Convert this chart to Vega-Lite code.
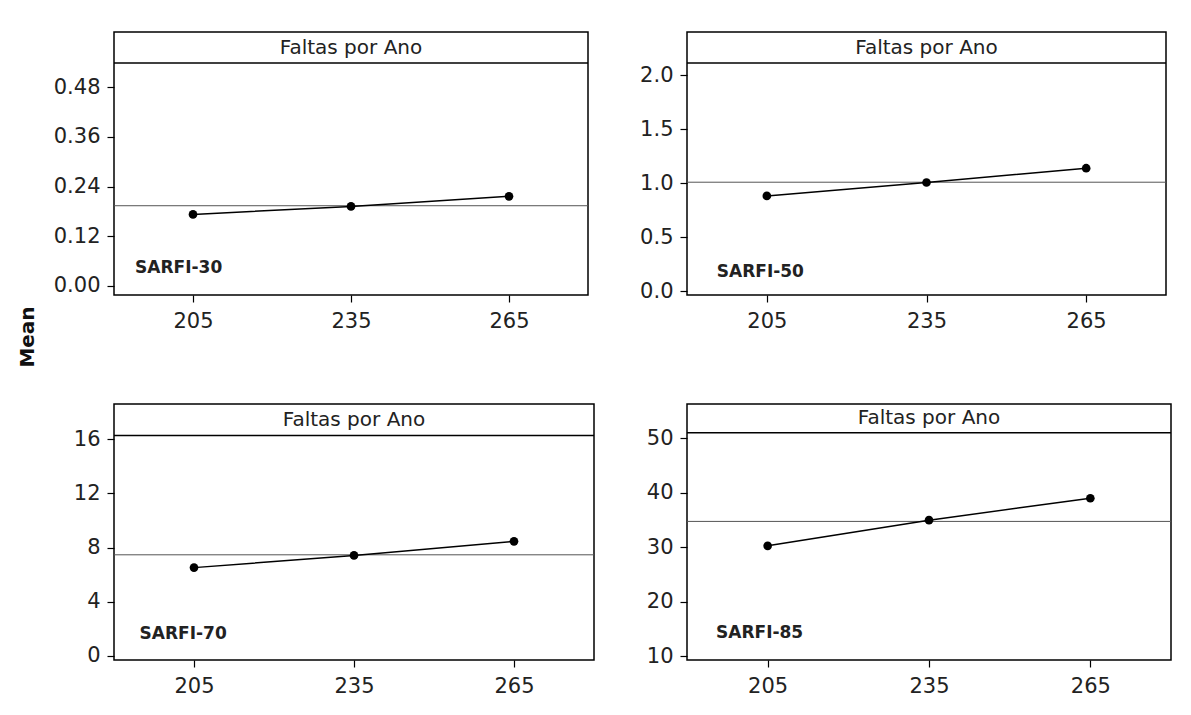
{
  "$schema": "https://vega.github.io/schema/vega-lite/v6.json",
  "background": "white",
  "padding": {"left": 18, "top": 31, "right": 5, "bottom": 5},
  "title": {"text": "Mean", "orient": "left", "anchor": "middle", "font": "DejaVu Sans", "fontSize": 20, "fontWeight": "bold", "color": "#111", "offset": 14, "dx": 27},
  "datasets": {
    "medias": [
      {"painel": "SARFI-30", "fator": "Faltas por Ano", "ano": 205, "media": 0.1727},
      {"painel": "SARFI-30", "fator": "Faltas por Ano", "ano": 235, "media": 0.192},
      {"painel": "SARFI-30", "fator": "Faltas por Ano", "ano": 265, "media": 0.2163},
      {"painel": "SARFI-50", "fator": "Faltas por Ano", "ano": 205, "media": 0.882},
      {"painel": "SARFI-50", "fator": "Faltas por Ano", "ano": 235, "media": 1.006},
      {"painel": "SARFI-50", "fator": "Faltas por Ano", "ano": 265, "media": 1.139},
      {"painel": "SARFI-70", "fator": "Faltas por Ano", "ano": 205, "media": 6.52},
      {"painel": "SARFI-70", "fator": "Faltas por Ano", "ano": 235, "media": 7.42},
      {"painel": "SARFI-70", "fator": "Faltas por Ano", "ano": 265, "media": 8.46},
      {"painel": "SARFI-85", "fator": "Faltas por Ano", "ano": 205, "media": 30.27},
      {"painel": "SARFI-85", "fator": "Faltas por Ano", "ano": 235, "media": 34.98},
      {"painel": "SARFI-85", "fator": "Faltas por Ano", "ano": 265, "media": 39.01}
    ]
  },
  "bounds": "flush",
  "align": "all",
  "columns": 2,
  "spacing": {"row": 109, "column": 89},
  "concat": [
    {
      "width": 474, "height": 263,
      "data": {"name": "medias"},
      "transform": [{"filter": "datum.painel == 'SARFI-30'"}],
      "layer": [
        {"transform": [{"filter": "datum.ano == 205"}], "mark": {"type": "rule", "color": "black", "strokeWidth": 1.5}, "encoding": {"y": {"datum": 0.538, "title": null}}},
        {"transform": [{"filter": "datum.ano == 205"}], "mark": {"type": "text", "font": "DejaVu Sans", "fontSize": 20, "color": "#222", "baseline": "middle"}, "encoding": {"x": {"datum": 235, "title": null}, "y": {"datum": 0.5755, "title": null}, "text": {"field": "fator"}}},
        {"transform": [{"filter": "datum.ano == 205"}], "mark": {"type": "text", "font": "DejaVu Sans", "fontSize": 17, "fontWeight": "bold", "color": "#222", "align": "left", "baseline": "alphabetic"}, "encoding": {"x": {"datum": 194, "title": null}, "y": {"datum": 0.031, "title": null}, "text": {"field": "painel"}}},
        {"mark": {"type": "rule", "color": "#555", "strokeWidth": 1}, "encoding": {"y": {"aggregate": "mean", "field": "media", "type": "quantitative", "title": null}}},
        {"mark": {"type": "line", "color": "black", "strokeWidth": 1.5}, "encoding": {
          "x": {"field": "ano", "type": "quantitative", "title": null, "scale": {"domain": [190, 280], "nice": false, "zero": false}, "axis": {"values": [205, 235, 265], "format": "d"}},
          "y": {"field": "media", "type": "quantitative", "title": null, "scale": {"domain": [-0.0218, 0.613], "nice": false, "zero": false}, "axis": {"values": [0, 0.12, 0.24, 0.36, 0.48], "format": ".2f"}}}},
        {"mark": {"type": "point", "filled": true, "color": "black", "opacity": 1, "size": 75}, "encoding": {"x": {"field": "ano", "type": "quantitative", "title": null}, "y": {"field": "media", "type": "quantitative", "title": null}}}
      ]
    },
    {
      "width": 479, "height": 263,
      "data": {"name": "medias"},
      "transform": [{"filter": "datum.painel == 'SARFI-50'"}],
      "layer": [
        {"transform": [{"filter": "datum.ano == 205"}], "mark": {"type": "rule", "color": "black", "strokeWidth": 1.5}, "encoding": {"y": {"datum": 2.114, "title": null}}},
        {"transform": [{"filter": "datum.ano == 205"}], "mark": {"type": "text", "font": "DejaVu Sans", "fontSize": 20, "color": "#222", "baseline": "middle"}, "encoding": {"x": {"datum": 235, "title": null}, "y": {"datum": 2.258, "title": null}, "text": {"field": "fator"}}},
        {"transform": [{"filter": "datum.ano == 205"}], "mark": {"type": "text", "font": "DejaVu Sans", "fontSize": 17, "fontWeight": "bold", "color": "#222", "align": "left", "baseline": "alphabetic"}, "encoding": {"x": {"datum": 195.6, "title": null}, "y": {"datum": 0.133, "title": null}, "text": {"field": "painel"}}},
        {"mark": {"type": "rule", "color": "#555", "strokeWidth": 1}, "encoding": {"y": {"aggregate": "mean", "field": "media", "type": "quantitative", "title": null}}},
        {"mark": {"type": "line", "color": "black", "strokeWidth": 1.5}, "encoding": {
          "x": {"field": "ano", "type": "quantitative", "title": null, "scale": {"domain": [190, 280], "nice": false, "zero": false}, "axis": {"values": [205, 235, 265], "format": "d"}},
          "y": {"field": "media", "type": "quantitative", "title": null, "scale": {"domain": [-0.037, 2.402], "nice": false, "zero": false}, "axis": {"values": [0, 0.5, 1, 1.5, 2], "format": ".1f"}}}},
        {"mark": {"type": "point", "filled": true, "color": "black", "opacity": 1, "size": 75}, "encoding": {"x": {"field": "ano", "type": "quantitative", "title": null}, "y": {"field": "media", "type": "quantitative", "title": null}}}
      ]
    },
    {
      "width": 480, "height": 256,
      "data": {"name": "medias"},
      "transform": [{"filter": "datum.painel == 'SARFI-70'"}],
      "layer": [
        {"transform": [{"filter": "datum.ano == 205"}], "mark": {"type": "rule", "color": "black", "strokeWidth": 1.5}, "encoding": {"y": {"datum": 16.28, "title": null}}},
        {"transform": [{"filter": "datum.ano == 205"}], "mark": {"type": "text", "font": "DejaVu Sans", "fontSize": 20, "color": "#222", "baseline": "middle"}, "encoding": {"x": {"datum": 235, "title": null}, "y": {"datum": 17.44, "title": null}, "text": {"field": "fator"}}},
        {"transform": [{"filter": "datum.ano == 205"}], "mark": {"type": "text", "font": "DejaVu Sans", "fontSize": 17, "fontWeight": "bold", "color": "#222", "align": "left", "baseline": "alphabetic"}, "encoding": {"x": {"datum": 194.8, "title": null}, "y": {"datum": 1.26, "title": null}, "text": {"field": "painel"}}},
        {"mark": {"type": "rule", "color": "#555", "strokeWidth": 1}, "encoding": {"y": {"aggregate": "mean", "field": "media", "type": "quantitative", "title": null}}},
        {"mark": {"type": "line", "color": "black", "strokeWidth": 1.5}, "encoding": {
          "x": {"field": "ano", "type": "quantitative", "title": null, "scale": {"domain": [190, 280], "nice": false, "zero": false}, "axis": {"values": [205, 235, 265], "format": "d"}},
          "y": {"field": "media", "type": "quantitative", "title": null, "scale": {"domain": [-0.3, 18.6], "nice": false, "zero": false}, "axis": {"values": [0, 4, 8, 12, 16], "format": "d"}}}},
        {"mark": {"type": "point", "filled": true, "color": "black", "opacity": 1, "size": 75}, "encoding": {"x": {"field": "ano", "type": "quantitative", "title": null}, "y": {"field": "media", "type": "quantitative", "title": null}}}
      ]
    },
    {
      "width": 484, "height": 256,
      "data": {"name": "medias"},
      "transform": [{"filter": "datum.painel == 'SARFI-85'"}],
      "layer": [
        {"transform": [{"filter": "datum.ano == 205"}], "mark": {"type": "rule", "color": "black", "strokeWidth": 1.5}, "encoding": {"y": {"datum": 51.04, "title": null}}},
        {"transform": [{"filter": "datum.ano == 205"}], "mark": {"type": "text", "font": "DejaVu Sans", "fontSize": 20, "color": "#222", "baseline": "middle"}, "encoding": {"x": {"datum": 235, "title": null}, "y": {"datum": 53.67, "title": null}, "text": {"field": "fator"}}},
        {"transform": [{"filter": "datum.ano == 205"}], "mark": {"type": "text", "font": "DejaVu Sans", "fontSize": 17, "fontWeight": "bold", "color": "#222", "align": "left", "baseline": "alphabetic"}, "encoding": {"x": {"datum": 195.4, "title": null}, "y": {"datum": 13.3, "title": null}, "text": {"field": "painel"}}},
        {"mark": {"type": "rule", "color": "#555", "strokeWidth": 1}, "encoding": {"y": {"aggregate": "mean", "field": "media", "type": "quantitative", "title": null}}},
        {"mark": {"type": "line", "color": "black", "strokeWidth": 1.5}, "encoding": {
          "x": {"field": "ano", "type": "quantitative", "title": null, "scale": {"domain": [190, 280], "nice": false, "zero": false}, "axis": {"values": [205, 235, 265], "format": "d"}},
          "y": {"field": "media", "type": "quantitative", "title": null, "scale": {"domain": [9.32, 56.3], "nice": false, "zero": false}, "axis": {"values": [10, 20, 30, 40, 50], "format": "d"}}}},
        {"mark": {"type": "point", "filled": true, "color": "black", "opacity": 1, "size": 75}, "encoding": {"x": {"field": "ano", "type": "quantitative", "title": null}, "y": {"field": "media", "type": "quantitative", "title": null}}}
      ]
    }
  ],
  "config": {
    "view": {"stroke": "black", "strokeWidth": 1.5},
    "axis": {"domain": false, "grid": false, "labelFont": "DejaVu Sans", "labelFontSize": 21, "labelColor": "#222", "tickColor": "black", "tickWidth": 1.2, "tickSize": 7},
    "axisX": {"labelPadding": 8},
    "axisY": {"labelPadding": 7}
  }
}
